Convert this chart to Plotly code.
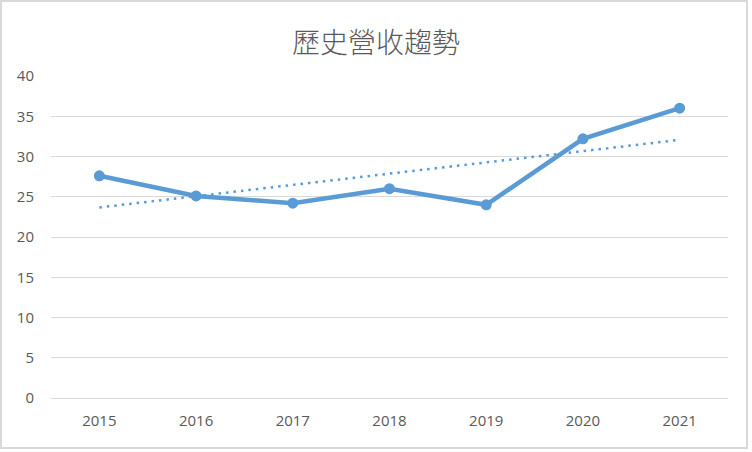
import numpy as np
import plotly.graph_objects as go

years = ["2015", "2016", "2017", "2018", "2019", "2020", "2021"]
revenue = [27.6, 25.1, 24.2, 26.0, 24.0, 32.2, 36.0]
y_ticks = [0, 5, 10, 15, 20, 25, 30, 35, 40]
title_text = "歷史營收趨勢"

W, H = 752, 452
L, R, T, B = 51, 24, 76, 54
pw, ph = W - L - R, H - T - B

# linear trendline (least squares)
xi = np.arange(len(revenue))
slope, intercept = np.polyfit(xi, revenue, 1)
trend = slope * xi + intercept

color = "#5B9BD5"
fig = go.Figure()
fig.add_trace(go.Scatter(x=years, y=trend, mode="lines",
                         line=dict(color=color, width=2.5, dash="2.5px,5px"),
                         hoverinfo="skip", showlegend=False))
fig.add_trace(go.Scatter(x=years, y=revenue, mode="lines+markers",
                         line=dict(color=color, width=4.5),
                         marker=dict(color=color, size=11),
                         showlegend=False))

def px_x(p):
    return (p - L) / pw

def px_y(p):
    return (H - B - p) / ph

fig.update_layout(
    width=W, height=H,
    margin=dict(l=L, r=R, t=T, b=B),
    paper_bgcolor="white", plot_bgcolor="white",
    title=dict(text=title_text, x=0.5, xanchor="center", y=1 - 43 / H, yanchor="middle",
               font=dict(family="Noto Sans CJK TC", size=28, color="#595959", weight=300)),
    xaxis=dict(type="category", showgrid=False, showline=False, zeroline=False,
               tickfont=dict(family="Open Sans", size=15, color="#595959"),
               ticks="", ticklabelstandoff=12, range=[-0.5, 6.5]),
    yaxis=dict(range=[0, 40], tickvals=y_ticks, showgrid=True, gridcolor="#D9D9D9",
               gridwidth=1.2, zeroline=True, zerolinecolor="#D9D9D9", zerolinewidth=1.2,
               showline=False, ticks="", ticklabelstandoff=16,
               tickfont=dict(family="Open Sans", size=15, color="#595959")),
    shapes=[dict(type="rect", xref="paper", yref="paper",
                 x0=px_x(1), x1=px_x(747), y0=px_y(448), y1=px_y(1),
                 line=dict(color="#D9D9D9", width=2), fillcolor="rgba(0,0,0,0)", layer="below")],
)

fig.write_html("out.html", config={"displayModeBar": False},
               post_script="document.body.style.margin='0';document.body.style.padding='0';")
